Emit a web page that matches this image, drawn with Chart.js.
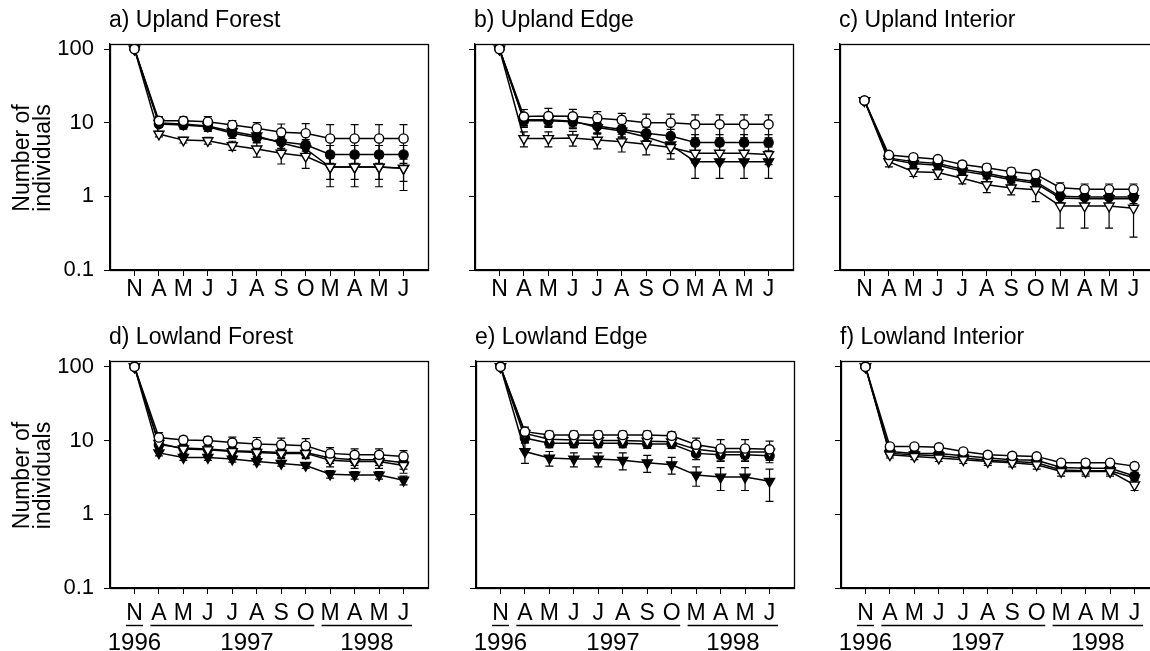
<!DOCTYPE html>
<html>
<head>
<meta charset="utf-8">
<script src="https://cdn.jsdelivr.net/npm/chart.js@4.4.1/dist/chart.umd.min.js"></script>
<style>
html, body { margin: 0; padding: 0; background: #fff; overflow: hidden; width: 1150px; height: 651px; }
.panel { position: absolute; }
</style>
</head>
<body>
<script>
// ---------- DATA ----------
const months = ['N','A','M','J','J','A','S','O','M','A','M','J'];
const yTickValues = [0.1, 1, 10, 100];
const yTickLabels = ['0.1', '1', '10', '100'];
const yearLabels = ['1996', '1997', '1998'];
const panelTitles = ['a) Upland Forest', 'b) Upland Edge', 'c) Upland Interior',
                     'd) Lowland Forest', 'e) Lowland Edge', 'f) Lowland Interior'];
const yAxisTitle = ['Number of', 'individuals'];

// a) Upland Forest   (CO open circle, CF filled circle, TO open triangle, TF filled triangle)
const aCO = [100, 10.6, 10.6, 10.3, 9.3, 8.4, 7.4, 7.2, 6.1, 6.1, 6.1, 6.1];
const aCF = [100, 9.6, 9.3, 8.8, 7.2, 6.3, 5.5, 5.0, 3.7, 3.7, 3.7, 3.7];
const aTO = [100, 7.0, 5.8, 5.7, 4.9, 4.4, 3.85, 3.5, 2.5, 2.5, 2.5, 2.4];
const aTF = [100, 9.9, 9.6, 9.0, 7.6, 6.6, 5.3, 4.4, 2.5, 2.5, 2.5, 2.4];
const aCOe = [0, 1.5, 1.4, 1.8, 1.4, 1.6, 2.2, 2.5, 3.3, 3.3, 3.3, 3.3];
const aCFe = [0, 1.0, 1.1, 1.2, 1.1, 1.0, 1.0, 0.9, 1.2, 1.2, 1.2, 1.2];
const aTOe = [0, 0.6, 0.5, 0.6, 0.7, 1.0, 1.1, 1.1, 1.15, 1.15, 1.15, 1.2];
const aTFe = [0, 1.0, 1.0, 1.0, 0.9, 0.9, 0.9, 0.8, 0.8, 0.8, 0.8, 0.8];

// b) Upland Edge
const bCO = [100, 12.1, 12.3, 12.2, 11.5, 10.9, 10.0, 10.0, 9.5, 9.5, 9.5, 9.5];
const bCF = [100, 10.6, 10.6, 10.3, 9.0, 8.1, 7.2, 6.6, 5.4, 5.4, 5.4, 5.4];
const bTO = [100, 6.1, 6.1, 6.2, 5.8, 5.5, 5.1, 4.6, 3.85, 3.85, 3.85, 3.7];
const bTF = [100, 11.0, 11.0, 10.5, 8.6, 7.7, 6.4, 5.0, 2.95, 2.95, 2.95, 2.95];
const bCOe = [0, 3.0, 3.3, 3.0, 2.6, 2.5, 3.1, 3.1, 3.3, 3.3, 3.3, 3.3];
const bCFe = [0, 2.0, 2.0, 2.0, 1.8, 1.7, 1.5, 1.5, 1.5, 1.5, 1.5, 1.5];
const bTOe = [0, 1.4, 1.4, 1.4, 1.4, 1.5, 1.45, 1.4, 1.0, 1.0, 1.0, 1.0];
const bTFe = [0, 2.0, 2.0, 1.8, 1.6, 1.5, 1.3, 1.2, 1.2, 1.2, 1.2, 1.2];

// c) Upland Interior
const cCO = [20, 3.65, 3.4, 3.2, 2.7, 2.45, 2.16, 2.0, 1.31, 1.25, 1.25, 1.25];
const cCF = [20, 3.3, 2.96, 2.8, 2.33, 2.06, 1.76, 1.58, 1.0, 0.98, 0.98, 0.98];
const cTO = [20, 2.96, 2.16, 2.1, 1.76, 1.44, 1.30, 1.23, 0.74, 0.74, 0.74, 0.69];
const cTF = [20, 3.2, 2.8, 2.65, 2.2, 1.95, 1.68, 1.5, 0.95, 0.93, 0.93, 0.93];
const cCOe = [0, 0.3, 0.3, 0.3, 0.28, 0.28, 0.26, 0.25, 0.22, 0.22, 0.22, 0.22];
const cCFe = [0, 0.25, 0.25, 0.25, 0.22, 0.22, 0.2, 0.2, 0.18, 0.18, 0.18, 0.18];
const cTOe = [0, 0.45, 0.3, 0.4, 0.28, 0.32, 0.25, 0.38, 0.37, 0.37, 0.37, 0.41];
const cTFe = [0, 0.25, 0.25, 0.25, 0.22, 0.22, 0.2, 0.2, 0.18, 0.18, 0.18, 0.18];

// d) Lowland Forest
const dCO = [100, 11.0, 10.2, 10.0, 9.4, 9.0, 8.8, 8.5, 6.7, 6.4, 6.4, 6.1];
const dCF = [100, 8.8, 7.9, 7.7, 7.3, 7.1, 6.9, 6.9, 5.8, 5.5, 5.5, 5.0];
const dTO = [100, 9.2, 7.7, 7.5, 7.1, 6.9, 6.7, 6.7, 5.4, 5.2, 5.2, 4.6];
const dTF = [100, 6.8, 5.9, 5.9, 5.6, 5.2, 4.9, 4.6, 3.5, 3.4, 3.4, 2.9];
const dCOe = [0, 1.8, 1.2, 1.3, 1.7, 2.0, 2.0, 2.1, 1.3, 1.3, 1.3, 1.2];
const dCFe = [0, 1.0, 0.9, 0.9, 1.0, 1.0, 1.0, 1.0, 0.9, 0.9, 0.9, 0.9];
const dTOe = [0, 1.2, 1.0, 1.0, 1.0, 1.0, 1.0, 1.0, 1.0, 1.0, 1.0, 1.0];
const dTFe = [0, 0.6, 0.5, 0.5, 0.5, 0.5, 0.4, 0.4, 0.4, 0.4, 0.4, 0.4];

// e) Lowland Edge
const eCO = [100, 13.2, 11.9, 11.9, 11.9, 11.9, 11.9, 11.6, 8.8, 7.8, 7.8, 7.6];
const eCF = [100, 10.8, 9.2, 9.2, 9.2, 9.2, 9.0, 9.0, 6.7, 6.4, 6.4, 6.2];
const eTO = [100, 12.5, 10.4, 10.2, 10.0, 10.0, 9.8, 9.6, 7.6, 7.0, 7.0, 7.0];
const eTF = [100, 7.1, 5.8, 5.6, 5.6, 5.4, 5.0, 4.7, 3.4, 3.2, 3.2, 2.8];
const eCOe = [0, 2.0, 1.5, 1.5, 1.5, 1.5, 1.5, 1.5, 2.0, 2.5, 2.5, 2.2];
const eCFe = [0, 1.5, 1.2, 1.2, 1.2, 1.2, 1.2, 1.2, 1.2, 1.2, 1.2, 1.2];
const eTOe = [0, 1.5, 1.3, 1.3, 1.3, 1.3, 1.3, 1.3, 1.3, 1.3, 1.3, 1.3];
const eTFe = [0, 2.2, 1.3, 1.2, 1.2, 1.4, 1.3, 1.2, 1.0, 1.1, 1.1, 1.3];

// f) Lowland Interior
const fCO = [100, 8.3, 8.3, 8.1, 7.1, 6.4, 6.2, 6.1, 5.0, 5.0, 5.0, 4.5];
const fCF = [100, 7.1, 6.7, 6.7, 6.2, 5.8, 5.5, 5.4, 4.3, 4.2, 4.2, 3.3];
const fTO = [100, 6.4, 6.1, 5.8, 5.5, 5.2, 5.0, 4.7, 3.8, 3.8, 3.8, 2.5];
const fTF = [100, 6.7, 6.4, 6.2, 5.8, 5.4, 5.2, 5.0, 4.0, 3.9, 3.9, 3.1];
const fCOe = [0, 0.6, 0.6, 0.6, 0.6, 0.6, 0.6, 0.6, 0.5, 0.5, 0.5, 0.5];
const fCFe = [0, 0.5, 0.5, 0.5, 0.5, 0.5, 0.5, 0.5, 0.4, 0.4, 0.4, 0.4];
const fTOe = [0, 0.6, 0.6, 0.6, 0.6, 0.6, 0.6, 0.6, 0.5, 0.5, 0.5, 0.4];
const fTFe = [0, 0.5, 0.5, 0.5, 0.5, 0.5, 0.5, 0.5, 0.4, 0.4, 0.4, 0.4];

// ---------- LAYOUT / STYLE ----------
const FONT = '"Liberation Sans", Arial, Helvetica, sans-serif';
const PLOT_W = 318;
const PAD_L = 110, PAD_T = 44, PAD_R = 12, X_AXIS_H = 64;

const panels = [
  { title: panelTitles[0], s: [aCO, aTO, aCF, aTF], e: [aCOe, aTOe, aCFe, aTFe], left: 110, top: 44, h: 226, ymax: 117, leftCol: true,  bottom: false },
  { title: panelTitles[1], s: [bCO, bTO, bCF, bTF], e: [bCOe, bTOe, bCFe, bTFe], left: 475, top: 44, h: 226, ymax: 117, leftCol: false, bottom: false },
  { title: panelTitles[2], s: [cCO, cTO, cCF, cTF], e: [cCOe, cTOe, cCFe, cTFe], left: 840, top: 44, h: 226, ymax: 117, leftCol: false, bottom: false },
  { title: panelTitles[3], s: [dCO, dTO, dCF, dTF], e: [dCOe, dTOe, dCFe, dTFe], left: 110, top: 361, h: 227, ymax: 120, leftCol: true,  bottom: true },
  { title: panelTitles[4], s: [eCO, eTO, eCF, eTF], e: [eCOe, eTOe, eCFe, eTFe], left: 476, top: 361, h: 227, ymax: 120, leftCol: false, bottom: true },
  { title: panelTitles[5], s: [fCO, fTO, fCF, fTF], e: [fCOe, fTOe, fCFe, fTFe], left: 841, top: 361, h: 227, ymax: 120, leftCol: false, bottom: true }
];

// marker styles in the same order as the series: open circle, open triangle, filled circle, filled triangle
const markerStyles = [
  { pointStyle: 'circle',   radius: 4.6, fill: '#fff', rot: 0 },
  { pointStyle: 'triangle', radius: 5.8, fill: '#fff', rot: 180 },
  { pointStyle: 'circle',   radius: 4.6, fill: '#000', rot: 0 },
  { pointStyle: 'triangle', radius: 5.8, fill: '#000', rot: 180 }
];

const decorPlugin = {
  id: 'decor',
  beforeDatasetsDraw(chart, args, opts) {
    const ctx = chart.ctx, ys = chart.scales.y;
    ctx.save();
    ctx.strokeStyle = '#000';
    ctx.lineWidth = 1.2;
    chart.data.datasets.forEach((ds, i) => {
      const meta = chart.getDatasetMeta(i);
      ds.errors.forEach((err, j) => {
        if (!err) return;
        const v = ds.data[j].y;
        const x = meta.data[j].x;
        const y1 = ys.getPixelForValue(v + err);
        const y2 = ys.getPixelForValue(Math.max(v - err, 0.1));
        ctx.beginPath();
        ctx.moveTo(x, y1); ctx.lineTo(x, y2);
        ctx.moveTo(x - 4, y1); ctx.lineTo(x + 4, y1);
        ctx.moveTo(x - 4, y2); ctx.lineTo(x + 4, y2);
        ctx.stroke();
      });
    });
    ctx.restore();
  },
  afterDraw(chart, args, opts) {
    const ctx = chart.ctx, a = chart.chartArea, xs = chart.scales.x;
    ctx.save();
    // frame
    ctx.strokeStyle = '#000';
    ctx.lineWidth = 1.3;
    ctx.strokeRect(Math.round(a.left) + 0.5, Math.round(a.top) + 0.5, Math.round(a.right - a.left), Math.round(a.bottom - a.top));
    ctx.fillStyle = '#000';
    // panel title
    ctx.font = '23px ' + FONT;
    ctx.textAlign = 'left';
    ctx.textBaseline = 'alphabetic';
    ctx.fillText(opts.title, a.left - 1, a.top - 17);
    // y axis title (left column)
    if (opts.leftCol) {
      const cy = (a.top + a.bottom) / 2 + 1;
      ctx.font = '23px ' + FONT;
      ctx.textAlign = 'center';
      ctx.textBaseline = 'middle';
      [[yAxisTitle[0], a.left - 87], [yAxisTitle[1], a.left - 66]].forEach(([t, x]) => {
        ctx.save();
        ctx.translate(x, cy);
        ctx.rotate(-Math.PI / 2);
        ctx.fillText(t, 0, 0);
        ctx.restore();
      });
    }
    // year underlines + year labels (bottom row)
    if (opts.bottom) {
      const groups = [[0, 0], [1, 7], [8, 11]];
      const yearPos = [0, 4.6, 9.5];
      const uy = a.bottom + 37.5;
      ctx.lineWidth = 1.4;
      groups.forEach(([g0, g1]) => {
        ctx.beginPath();
        ctx.moveTo(xs.getPixelForValue(g0 - 0.35), uy);
        ctx.lineTo(xs.getPixelForValue(g1 + 0.35), uy);
        ctx.stroke();
      });
      ctx.font = '24px ' + FONT;
      ctx.textAlign = 'center';
      ctx.textBaseline = 'middle';
      yearLabels.forEach((t, k) => ctx.fillText(t, xs.getPixelForValue(yearPos[k]), a.bottom + 55));
    }
    ctx.restore();
  }
};

panels.forEach((p) => {
  const div = document.createElement('div');
  div.className = 'panel';
  const cw = PAD_L + PLOT_W + PAD_R;
  const chH = PAD_T + p.h + X_AXIS_H;
  div.style.left = (p.left - PAD_L) + 'px';
  div.style.top = (p.top - PAD_T) + 'px';
  div.style.width = cw + 'px';
  div.style.height = chH + 'px';
  const cv = document.createElement('canvas');
  cv.width = cw; cv.height = chH;
  cv.style.width = cw + 'px'; cv.style.height = chH + 'px';
  div.appendChild(cv);
  document.body.appendChild(div);

  const datasets = p.s.map((vals, k) => ({
    data: vals.map((v, i) => ({ x: i, y: v })),
    errors: p.e[k],
    borderColor: '#000',
    borderWidth: 1.5,
    pointStyle: markerStyles[k].pointStyle,
    pointRadius: markerStyles[k].radius,
    pointRotation: markerStyles[k].rot,
    pointBackgroundColor: markerStyles[k].fill,
    pointBorderColor: '#000',
    pointBorderWidth: 1.4,
    fill: false,
    tension: 0
  }));

  new Chart(cv, {
    type: 'line',
    data: { datasets },
    plugins: [decorPlugin],
    options: {
      responsive: false,
      animation: false,
      devicePixelRatio: 1,
      layout: { padding: { left: 0, top: PAD_T, right: PAD_R, bottom: 0 } },
      plugins: {
        legend: { display: false },
        tooltip: { enabled: false },
        title: { display: false },
        decor: { title: p.title, leftCol: p.leftCol, bottom: p.bottom }
      },
      scales: {
        x: {
          type: 'linear',
          min: -1, max: 12,
          afterBuildTicks: (s) => { s.ticks = months.map((m, i) => ({ value: i })); },
          afterFit: (s) => { s.height = X_AXIS_H; },
          ticks: {
            autoSkip: false, maxRotation: 0, minRotation: 0,
            padding: p.bottom ? 6 : 0,
            color: '#000',
            font: { family: FONT, size: 23 },
            callback: (v) => months[v] ?? ''
          },
          grid: { drawOnChartArea: false, drawTicks: true, tickLength: 6, color: '#000', lineWidth: 1 },
          border: { display: true, color: '#000', width: 1.3 }
        },
        y: {
          type: 'logarithmic',
          min: 0.1, max: p.ymax,
          afterBuildTicks: (s) => { s.ticks = yTickValues.map(v => ({ value: v })); },
          afterFit: (s) => { s.width = PAD_L; },
          ticks: {
            padding: 10,
            color: '#000',
            font: { family: FONT, size: 22 },
            callback: (v) => { const k = yTickValues.indexOf(v); return p.leftCol && k >= 0 ? yTickLabels[k] : ''; }
          },
          grid: { drawOnChartArea: false, drawTicks: true, tickLength: 6, color: '#000', lineWidth: 1 },
          border: { display: true, color: '#000', width: 1.3 }
        }
      }
    }
  });
});
</script>
</body>
</html>
